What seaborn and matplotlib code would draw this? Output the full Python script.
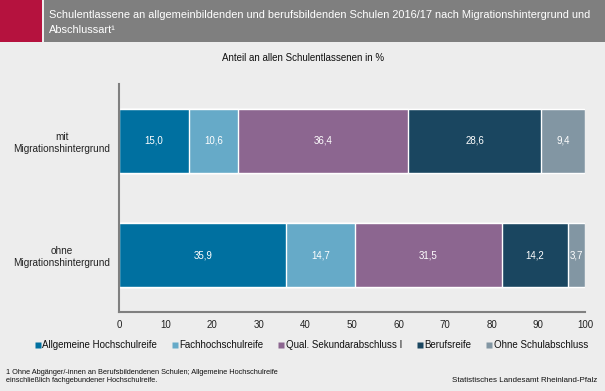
import matplotlib
matplotlib.use("Agg")
import matplotlib.pyplot as plt
import numpy as np
import pandas as pd
import seaborn as sns
from matplotlib.patches import Rectangle
from matplotlib.lines import Line2D

# data
groups = ["mit\nMigrationshintergrund", "ohne\nMigrationshintergrund"]
categories = ["Allgemeine Hochschulreife", "Fachhochschulreife",
              "Qual. Sekundarabschluss I", "Berufsreife", "Ohne Schulabschluss"]
mit_values = [15.0, 10.6, 36.4, 28.6, 9.4]
ohne_values = [35.9, 14.7, 31.5, 14.2, 3.7]
colors = ["#0070A0", "#66AAC8", "#8C6690", "#1A4660", "#8296A3"]
x_ticks = [0, 10, 20, 30, 40, 50, 60, 70, 80, 90, 100]

bg = "#EDEDED"
sns.set_theme(style="white")
plt.rcParams["font.family"] = ["Liberation Sans", "DejaVu Sans"]

df = pd.DataFrame({"group": np.repeat(groups, len(categories)),
                   "category": categories * len(groups),
                   "value": mit_values + ohne_values})
df["cum"] = df.groupby("group")["value"].cumsum()
df["start"] = df["cum"] - df["value"]

fig = plt.figure(figsize=(6.05, 3.91), dpi=100, facecolor=bg)
W, H = 605, 391
ax = fig.add_axes([119 / W, 1 - 312 / H, (585 - 119) / W, (312 - 84) / H])
ax.set_facecolor(bg)

# stacked bars: draw cumulative totals from the last segment back to the first
for cat, col in reversed(list(zip(categories, colors))):
    sub = df[df["category"] == cat]
    sns.barplot(data=sub, x="cum", y="group", color=col, orient="h",
                width=0.56, saturation=1, ax=ax, order=groups)

for _, r in df.iterrows():
    ax.text(r["start"] + r["value"] / 2, groups.index(r["group"]),
            f"{r['value']:.1f}".replace(".", ","), ha="center", va="center",
            color="white", fontsize=7)

ax.set_xlim(0, 100)
ax.set_ylim(1.5, -0.5)
ax.set_xticks(x_ticks)
ax.set_xticklabels([str(t) for t in x_ticks], fontsize=7, color="#222222")
ax.set_yticks([0.5], minor=True)
ax.set_yticks([0, 1])
ax.set_yticklabels(groups, fontsize=7.2, color="#222222", ha="center")
ax.tick_params(axis="y", which="major", length=0, pad=41)
ax.tick_params(axis="y", which="minor", length=4, width=1, color="#808080", direction="out")
ax.tick_params(axis="x", length=4, width=1, color="#808080", direction="out", pad=2)
ax.set_xlabel("")
ax.set_ylabel("")
for s in ["top", "right"]:
    ax.spines[s].set_visible(False)
for s in ["left", "bottom"]:
    ax.spines[s].set_color("#808080")
    ax.spines[s].set_linewidth(1.5)

# header
fig.patches.append(Rectangle((0, 1 - 42 / H), 42 / W, 42 / H, transform=fig.transFigure,
                             facecolor="#B5123E", edgecolor="none"))
fig.patches.append(Rectangle((44 / W, 1 - 42 / H), (W - 44) / W, 42 / H, transform=fig.transFigure,
                             facecolor="#7F7F7F", edgecolor="none"))
fig.text(49 / W, 1 - 15 / H,
         "Schulentlassene an allgemeinbildenden und berufsbildenden Schulen 2016/17 nach Migrationshintergrund und",
         color="white", fontsize=7.9, va="center")
fig.text(49 / W, 1 - 30 / H, "Abschlussart\u00b9", color="white", fontsize=7.9, va="center")
fig.text(303 / W, 1 - 58 / H, "Anteil an allen Schulentlassenen in %", ha="center",
         va="center", fontsize=7, color="#111111")

handles = [Line2D([], [], marker="s", linestyle="none", markersize=5,
                  markerfacecolor=c, markeredgecolor="none") for c in colors]
fig.legend(handles, categories, loc="center", bbox_to_anchor=(311 / W, 1 - 345 / H),
           ncol=5, frameon=False, fontsize=7, handletextpad=0.1, columnspacing=1.4,
           handlelength=0.8, labelcolor="#111111")

fig.text(6 / W, 1 - 373 / H,
         "1 Ohne Abgänger/-innen an Berufsbildendenen Schulen; Allgemeine Hochschulreife",
         fontsize=5.3, va="center", color="#111111")
fig.text(6 / W, 1 - 381 / H, "einschließlich fachgebundener Hochschulreife.",
         fontsize=5.3, va="center", color="#111111")
fig.text(597 / W, 1 - 381 / H, "Statistisches Landesamt Rheinland-Pfalz", ha="right",
         fontsize=5.8, va="center", color="#111111")

fig.savefig("out.png", dpi=100, facecolor=bg)
